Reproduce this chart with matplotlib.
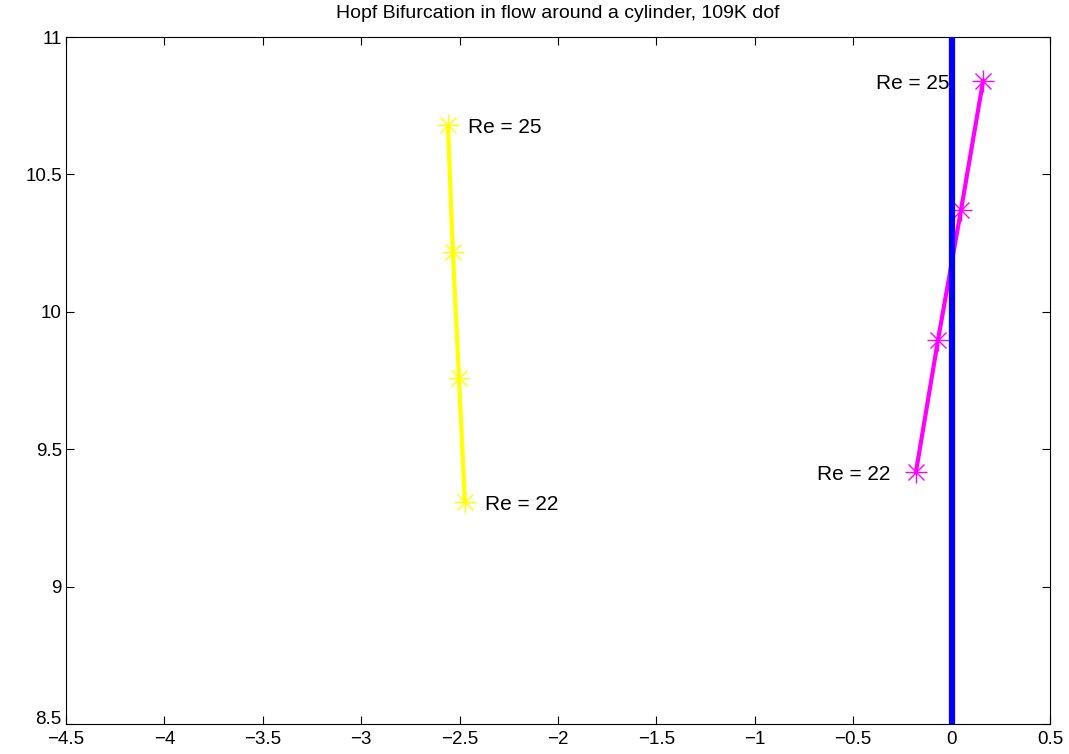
import matplotlib
matplotlib.use('Agg')
import matplotlib.pyplot as plt
import matplotlib.transforms as mtransforms

plt.rcParams['font.family'] = ['Liberation Sans', 'DejaVu Sans']

# eigenvalue paths (real part, imag part)
yellow_re = [-2.559, -2.534, -2.503, -2.473]
yellow_im = [10.680, 10.218, 9.759, 9.308]
magenta_re = [0.160, 0.048, -0.069, -0.181]
magenta_im = [10.840, 10.370, 9.897, 9.417]
axis_x = [0, 0]
axis_y = [8.5, 11]

fig = plt.figure(figsize=(10.69, 7.54), dpi=100)
ax = fig.add_axes([0.0617, 0.0398, 0.9205, 0.9111])

ax.plot(axis_x, axis_y, color='#0000ff', lw=4.5, zorder=3)

for xs, ys, c in [(yellow_re, yellow_im, '#ffff00'), (magenta_re, magenta_im, '#ff00ff')]:
    ax.plot(xs, ys, color=c, lw=3, zorder=2)
    ax.plot(xs, ys, ls='none', marker='+', ms=16, mew=1, color=c, zorder=2)
    ax.plot(xs, ys, ls='none', marker='x', ms=12, mew=1, color=c, zorder=2)

fs = 15
ax.text(yellow_re[0] + 0.1, yellow_im[0] - 0.01, 'Re = 25', fontsize=fs, va='center', ha='left')
ax.text(yellow_re[-1] + 0.1, yellow_im[-1] - 0.01, 'Re = 22', fontsize=fs, va='center', ha='left')
ax.text(magenta_re[0] - 0.17, magenta_im[0] - 0.01, 'Re = 25', fontsize=fs, va='center', ha='right')
ax.text(magenta_re[-1] - 0.13, magenta_im[-1] - 0.01, 'Re = 22', fontsize=fs, va='center', ha='right')

ax.set_xlim(-4.5, 0.5)
ax.set_ylim(8.5, 11)
ax.set_xticks([-4.5, -4, -3.5, -3, -2.5, -2, -1.5, -1, -0.5, 0, 0.5])
ax.set_xticklabels(['\u22124.5', '\u22124', '\u22123.5', '\u22123', '\u22122.5', '\u22122',
                    '\u22121.5', '\u22121', '\u22120.5', '0', '0.5'])
ax.set_yticks([8.5, 9, 9.5, 10, 10.5, 11])
ax.set_yticklabels(['8.5', '9', '9.5', '10', '10.5', '11'])
ax.tick_params(direction='in', top=True, right=True, length=6, labelsize=13.5, pad=3)
ax.tick_params(axis='x', pad=5)
ax.set_title('Hopf Bifurcation in flow around a cylinder, 109K dof', fontsize=14, pad=14)

# nudge the lowest y label up so it clears the first x label
lbl = ax.get_yticklabels()[0]
lbl.set_transform(lbl.get_transform() + mtransforms.ScaledTranslation(0, 5 / 72, fig.dpi_scale_trans))

fig.savefig('out.png', dpi=100)
